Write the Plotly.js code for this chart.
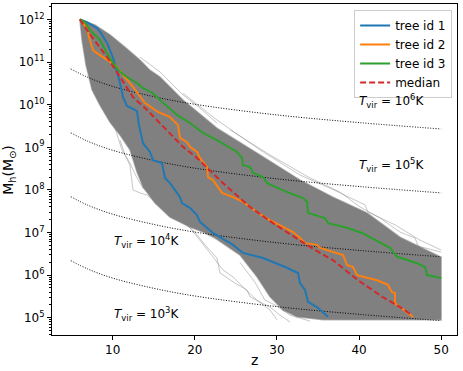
<!DOCTYPE html>
<html>
<head>
<meta charset="utf-8">
<script src="https://cdn.plot.ly/plotly-3.0.1.min.js"></script>
<style>html,body{margin:0;padding:0;background:#fff;}#chart{width:463px;height:371px;}</style>
</head>
<body>
<div id="chart"></div>
<script>
// ---- data (z, log10 Mh) ----
const tree1Z = [6.0,6.87,8.09,8.58,9.31,10.04,10.53,10.89,11.25,11.74,12.47,12.96,13.2,13.45,13.69,14.54,14.91,16.0,16.37,16.98,17.59,18.2,18.44,19.41,20.27,20.63,22.22,24.65,25.87,28.31,31.0,32.57,32.81,33.42,33.79,34.88,36.22];
const tree1LogM = [12.0,11.94,11.80,11.68,11.45,11.10,10.77,10.51,10.18,9.97,9.90,9.85,9.52,9.29,9.10,8.89,8.70,8.63,8.28,8.16,8.0,7.83,7.69,7.58,7.41,7.25,6.99,6.71,6.52,6.40,6.19,6.05,5.81,5.65,5.37,5.25,5.02];

const tree2Z = [6.0,6.87,7.11,7.6,8.09,9.31,10.28,12.47,13.93,15.52,16.98,17.95,18.2,19.05,19.41,20.27,20.63,21.48,21.61,22.22,23.31,24.65,25.87,26.72,27.94,29.16,30.74,31.96,32.81,33.42,34.88,35.25,38.05,38.54,39.27,39.76,42.19,43.53,44.02,44.38,44.38,44.99,46.57];
const tree2LogM = [12.0,11.80,11.59,11.28,11.21,11.05,10.93,10.42,10.04,9.83,9.71,9.52,9.22,9.12,9.01,8.89,8.75,8.54,8.30,8.23,7.93,7.83,7.72,7.60,7.43,7.29,7.13,7.01,6.87,6.75,6.71,6.64,6.47,6.24,6.19,6.0,5.88,5.77,5.60,5.58,5.34,5.25,5.02];

const tree3Z = [6.0,6.63,7.23,8.45,9.31,10.04,10.89,11.74,12.96,13.69,14.91,15.76,17.83,19.41,20.99,22.7,25.14,25.75,25.87,26.72,27.09,28.31,28.8,31.23,33.18,33.67,33.79,35.86,36.22,38.54,40.36,42.31,43.77,44.63,47.07,48.04,48.28,50.0];
const tree3LogM = [12.0,11.94,11.75,11.52,11.21,10.98,10.77,10.65,10.51,10.39,10.27,10.11,9.76,9.57,9.34,9.17,8.89,8.75,8.58,8.54,8.40,8.30,8.16,7.95,7.81,7.72,7.46,7.34,7.22,7.11,6.99,6.78,6.64,6.43,6.28,6.19,6.0,5.93];

const medianZ = [6.0,7.48,9.31,10.89,12.47,14.17,15.76,18.56,20.27,23.43,26.72,29.52,34.03,36.83,39.88,42.92,44.99,46.45];
const medianLogM = [12.0,11.59,11.12,10.65,10.18,9.88,9.57,9.01,8.75,8.16,7.60,7.22,6.66,6.35,5.88,5.48,5.25,5.06];

// envelope of the full set of trees (dense gray band)
const bandUpperZ = [6.0,7.84,9.67,11.5,13.32,14.54,15.76,18.56,22.7,27.94,32.81,36.83,40.97,44.99,50.0];
const bandUpperLogM = [12.0,11.87,11.64,11.35,11.05,10.81,10.65,10.11,9.45,8.82,8.23,7.83,7.46,6.89,6.42];
const bandLowerZ = [6.0,6.26,6.75,7.48,8.45,9.67,10.89,12.1,12.96,13.69,15.15,16.98,19.41,21.0,22.46,25.5,27.57,29.16,30.74,32.45,35.61,50.0];
const bandLowerLogM = [12.0,11.52,10.93,10.35,9.99,9.59,9.29,8.94,8.42,8.07,7.69,7.36,7.13,7.01,6.87,6.47,5.96,5.49,5.18,5.02,4.95,4.95];

// individual faint trees straying outside the dense band
const strayAZ = [18.56,22.7,27.94,32.81,36.47,38.9,40.73,41.09,44.38,47.43,50.0];
const strayALogM = [10.27,9.64,8.94,8.35,8.04,7.81,7.65,7.48,7.18,6.82,6.59];
const strayBZ = [24.29,29.16,34.03,37.68,40.12,42.56,44.99,46.82,47.19,50.0];
const strayBLogM = [9.41,8.82,8.28,7.95,7.60,7.34,7.01,6.87,6.68,6.54];
const strayCZ = [10.89,11.5,12.1,12.47,13.32,14.18,14.91,15.76,17.59,18.81,19.42,20.63,21.85,23.43,24.65,25.87,27.57,29.16,30.01];
const strayCLogM = [9.17,8.82,8.58,8.0,7.93,7.88,7.76,7.6,7.46,7.29,7.11,6.82,6.52,6.12,5.96,5.72,5.41,5.18,4.95];
const strayDZ = [10.28,11.13,12.1,12.96,13.69,15.39,16.61,17.83,18.56,20.02,21.24,22.7,23.07,24.9,26.36,26.72,29.16,30.37,31.6];
const strayDLogM = [9.45,8.94,8.63,8.28,8.04,7.83,7.6,7.46,7.25,7.01,6.71,6.40,6.05,5.81,5.65,5.49,5.25,5.06,4.90];
const strayEZ = [13.32,15.76,18.56,20.63,22.7];
const strayELogM = [11.12,10.77,10.23,9.92,9.57];
const strayFZ = [25.5,27.33,28.55,29.77,31.6,34.03];
const strayFLogM = [6.30,5.83,5.41,5.30,5.06,4.92];

// virial temperature curves
const tvirZ = [4.9,7,10,15,20,30,40,50];
const tvir6LogM = [10.84,10.64,10.43,10.19,10.01,9.76,9.58,9.43];
const tvir5LogM = [9.34,9.14,8.93,8.69,8.51,8.26,8.08,7.93];
const tvir4LogM = [7.84,7.64,7.43,7.19,7.01,6.76,6.58,6.43];
const tvir3LogM = [6.34,6.14,5.93,5.69,5.51,5.26,5.08,4.93];

const treeNames = ['tree id 1','tree id 2','tree id 3','median'];
const treeColors = ['#1f77b4','#ff7f0e','#2ca02c','#d62728'];
const yTickExp = [5,6,7,8,9,10,11,12];
const xTickVals = [10,20,30,40,50];

const pw = a => a.map(v => Math.pow(10, v));

const traces = [];
// dense band
traces.push({
  x: bandUpperZ.concat(bandLowerZ.slice().reverse()),
  y: pw(bandUpperLogM.concat(bandLowerLogM.slice().reverse())),
  type: 'scatter', mode: 'lines', fill: 'toself', fillcolor: '#808080',
  line: {width: 1.5, color: 'rgba(128,128,128,0.55)', simplify: false}, showlegend: false, hoverinfo: 'skip'
});
[[strayAZ,strayALogM],[strayBZ,strayBLogM],[strayCZ,strayCLogM],[strayDZ,strayDLogM],[strayEZ,strayELogM],[strayFZ,strayFLogM]].forEach(s => {
  traces.push({x: s[0], y: pw(s[1]), type: 'scatter', mode: 'lines',
    line: {width: 1, color: 'rgba(128,128,128,0.45)'}, showlegend: false, hoverinfo: 'skip'});
});
[tvir6LogM, tvir5LogM, tvir4LogM, tvir3LogM].forEach(t => {
  traces.push({x: tvirZ, y: pw(t), type: 'scatter', mode: 'lines',
    line: {width: 1, color: 'black', dash: '1px,1.6px', shape: 'spline'}, showlegend: false, hoverinfo: 'skip'});
});
const series = [[tree1Z,tree1LogM],[tree2Z,tree2LogM],[tree3Z,tree3LogM],[medianZ,medianLogM]];
series.forEach((s, i) => {
  traces.push({x: s[0], y: pw(s[1]), type: 'scatter', mode: 'lines', name: treeNames[i],
    line: {width: 2, color: treeColors[i], dash: i === 3 ? '6px,3px' : 'solid'}});
});

const minorVals = [];
for (let k = 4; k <= 12; k++) for (let m = 2; m <= 9; m++) minorVals.push(m * Math.pow(10, k));

const font = {family: 'DejaVu Sans', size: 12, color: 'black'};
const tvirLabel = e => '<i>T</i><sub>vir</sub> = 10<sup>' + e + '</sup>K';

const layout = {
  width: 463, height: 371,
  margin: {l: 52, r: 6, t: 4, b: 36},
  paper_bgcolor: 'white', plot_bgcolor: 'white',
  font: font,
  showlegend: true,
  legend: {x: 0.988, y: 0.982, xanchor: 'right', yanchor: 'top',
    bgcolor: 'rgba(255,255,255,0.85)', bordercolor: '#cccccc', borderwidth: 1,
    font: {family: 'DejaVu Sans', size: 12, color: 'black'}, itemwidth: 30, tracegroupgap: 0},
  xaxis: {range: [2.61, 51.93], showgrid: false, zeroline: false, showline: true, mirror: true,
    linecolor: 'black', linewidth: 1, ticks: 'outside', ticklen: 4, tickcolor: 'black',
    tickvals: xTickVals, ticktext: xTickVals.map(String), tickfont: font},
  yaxis: {type: 'log', range: [4.594, 12.364], showgrid: false, zeroline: false, showline: true, mirror: true,
    linecolor: 'black', linewidth: 1, ticks: 'outside', ticklen: 4, tickcolor: 'black',
    tickvals: yTickExp.map(e => Math.pow(10, e)), ticktext: yTickExp.map(e => '10<sup>' + e + '</sup>'),
    tickfont: font,
    minor: {tickmode: 'array', tickvals: minorVals, ticks: 'outside', ticklen: 2, tickcolor: 'black', showgrid: false}},
  annotations: [
    {xref: 'paper', yref: 'paper', x: 0.753, y: 0.707, xanchor: 'left', yanchor: 'middle', text: tvirLabel(6), showarrow: false, font: font},
    {xref: 'paper', yref: 'paper', x: 0.753, y: 0.514, xanchor: 'left', yanchor: 'middle', text: tvirLabel(5), showarrow: false, font: font},
    {xref: 'paper', yref: 'paper', x: 0.148, y: 0.284, xanchor: 'left', yanchor: 'middle', text: tvirLabel(4), showarrow: false, font: font},
    {xref: 'paper', yref: 'paper', x: 0.148, y: 0.063, xanchor: 'left', yanchor: 'middle', text: tvirLabel(3), showarrow: false, font: font},
    {xref: 'paper', yref: 'paper', x: 0.5, y: -0.075, xanchor: 'center', yanchor: 'middle', text: 'z', showarrow: false, font: {family: 'DejaVu Sans', size: 14, color: 'black'}},
    {xref: 'paper', yref: 'paper', x: -0.108, y: 0.5, xanchor: 'center', yanchor: 'middle', textangle: -90,
      text: 'M<sub>h</sub>(M<sub>⊙</sub>)', showarrow: false, font: {family: 'DejaVu Sans', size: 14, color: 'black'}}
  ]
};

Plotly.newPlot('chart', traces, layout, {displayModeBar: false, staticPlot: true});
</script>
</body>
</html>
